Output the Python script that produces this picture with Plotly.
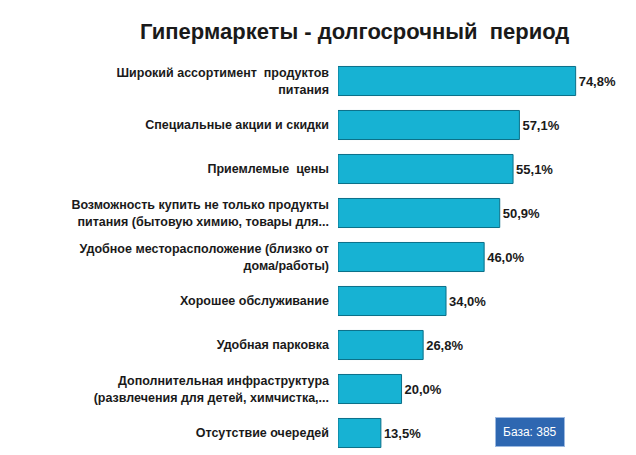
import plotly.graph_objects as go

categories = [
    "Широкий ассортимент  продуктов<br>питания",
    "Специальные акции и скидки",
    "Приемлемые  цены",
    "Возможность купить не только продукты<br>питания (бытовую химию, товары для...",
    "Удобное месторасположение (близко от<br>дома/работы)",
    "Хорошее обслуживание",
    "Удобная парковка",
    "Дополнительная инфраструктура<br>(развлечения для детей, химчистка,...",
    "Отсутствие очередей",
]
values = [74.8, 57.1, 55.1, 50.9, 46.0, 34.0, 26.8, 20.0, 13.5]
labels = ["74,8%", "57,1%", "55,1%", "50,9%", "46,0%", "34,0%", "26,8%", "20,0%", "13,5%"]

fig = go.Figure(go.Bar(
    x=values, y=["<b>" + c.replace("<br>", "</b><br><b>") + "</b>" for c in categories],
    orientation="h",
    marker=dict(color="#17b2d3", line=dict(color="#0a6f88", width=1)),
    width=0.66,
    text=["<b>" + t + "</b>" for t in labels], textposition="outside",
    textfont=dict(size=13, color="#1a1a1a", family="Liberation Sans"),
    cliponaxis=False,
))

fig.update_layout(
    width=636, height=455,
    margin=dict(l=330, r=28, t=51, b=8),
    paper_bgcolor="white", plot_bgcolor="white",
    showlegend=False,
    title=dict(text="<b>Гипермаркеты - долгосрочный  период</b>", x=0.545, xanchor="center",
               y=0.965, font=dict(size=22, color="#1a1a1a", family="Liberation Sans")),
    xaxis=dict(range=[0, 87.5], visible=False),
    yaxis=dict(autorange="reversed", ticks="", ticklabelstandoff=8,
               tickfont=dict(size=12.5, color="#1a1a1a", family="Liberation Sans")),
)

fig.add_annotation(
    xref="paper", yref="paper", x=0.69, y=0.02, xanchor="center", yanchor="bottom",
    text="База: 385", showarrow=False,
    font=dict(size=12, color="white", family="Liberation Sans"),
    bgcolor="#2e67b1", bordercolor="#9bb8e0", borderwidth=1, borderpad=7,
)

fig.write_html("out.html")
